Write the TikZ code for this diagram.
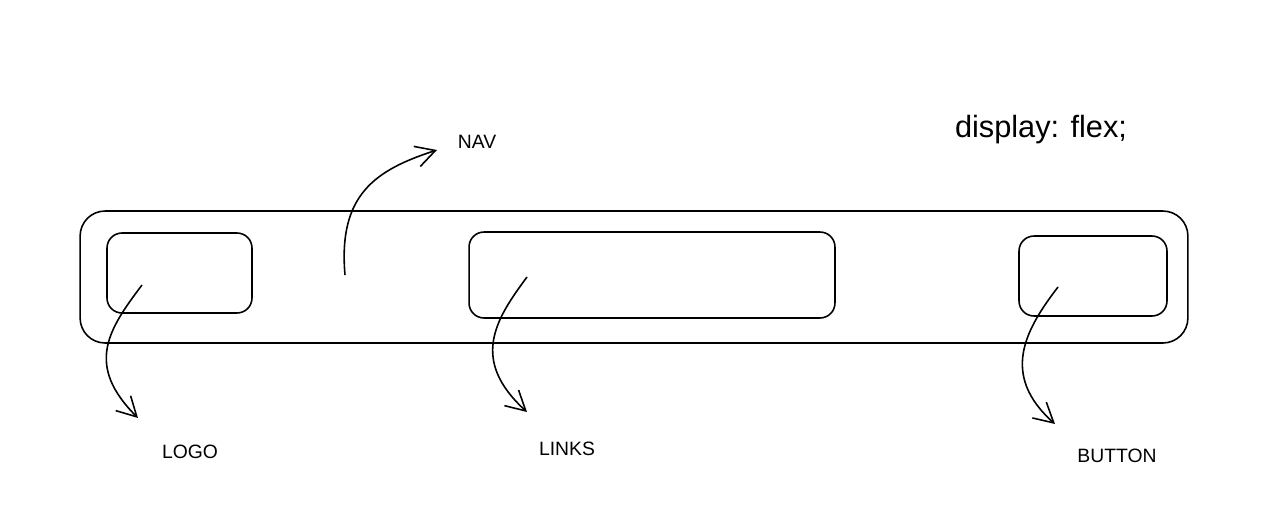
\documentclass[tikz,border=0pt]{standalone}
\usepackage{fontspec}
\setmainfont{Liberation Sans}
\usetikzlibrary{arrows.meta}

\begin{document}
\begin{tikzpicture}[
    x=0.02cm, y=-0.02cm,
    >={Straight Barb[length=11pt, width=12pt]},
    line width=0.9pt,
    caixa/.style={draw, rounded corners=0.3cm, minimum width=2.9cm, minimum height=1.6cm},
    rotulo/.style={font=\fontsize{11}{13}\selectfont},
    setinha/.style={->, line width=0.9pt}
  ]
    \useasboundingbox (0,0) rectangle (1277,525);

    % --- Barra de navegação ---
    \node[draw, rounded corners=0.5cm, minimum width=22.16cm, minimum height=2.64cm] (nav) at (634,277) {};

    % --- Elementos internos ---
    \node[caixa] (logo) at (179.5,273) {};
    \node[caixa, minimum width=7.32cm, minimum height=1.72cm] (links) at (652,275) {};
    \node[caixa, minimum width=2.96cm] (button) at (1093,276) {};

    % --- Textos ---
    \node[rotulo] (t-nav) at (477,142) {NAV};
    \node[rotulo] (t-logo) at (190,452) {LOGO};
    \node[rotulo] (t-links) at (567,449) {LINKS};
    \node[rotulo] (t-button) at (1117,456) {BUTTON};
    \node[font=\fontsize{17.5}{21}\selectfont] (flex) at (1041,130) {display: flex;};

    % --- Pontas das setas ---
    \coordinate (nav-de) at (345,275);
    \coordinate (nav-para) at (437,150);
    \coordinate (logo-de) at (142,285);
    \coordinate (logo-para) at (138,418);
    \coordinate (links-de) at (527,277);
    \coordinate (links-para) at (527,412);
    \coordinate (button-de) at (1058,287);
    \coordinate (button-para) at (1055,424);

    % --- Setas ---
    \draw[setinha] (nav-de) .. controls (338,195) and (375,170) .. (nav-para);
    \draw[setinha] (logo-de) .. controls (108,330) and (85,365) .. (logo-para);
    \draw[setinha] (links-de) .. controls (495,320) and (470,360) .. (links-para);
    \draw[setinha] (button-de) .. controls (1025,330) and (1000,375) .. (button-para);

  \end{tikzpicture}
\end{document}
